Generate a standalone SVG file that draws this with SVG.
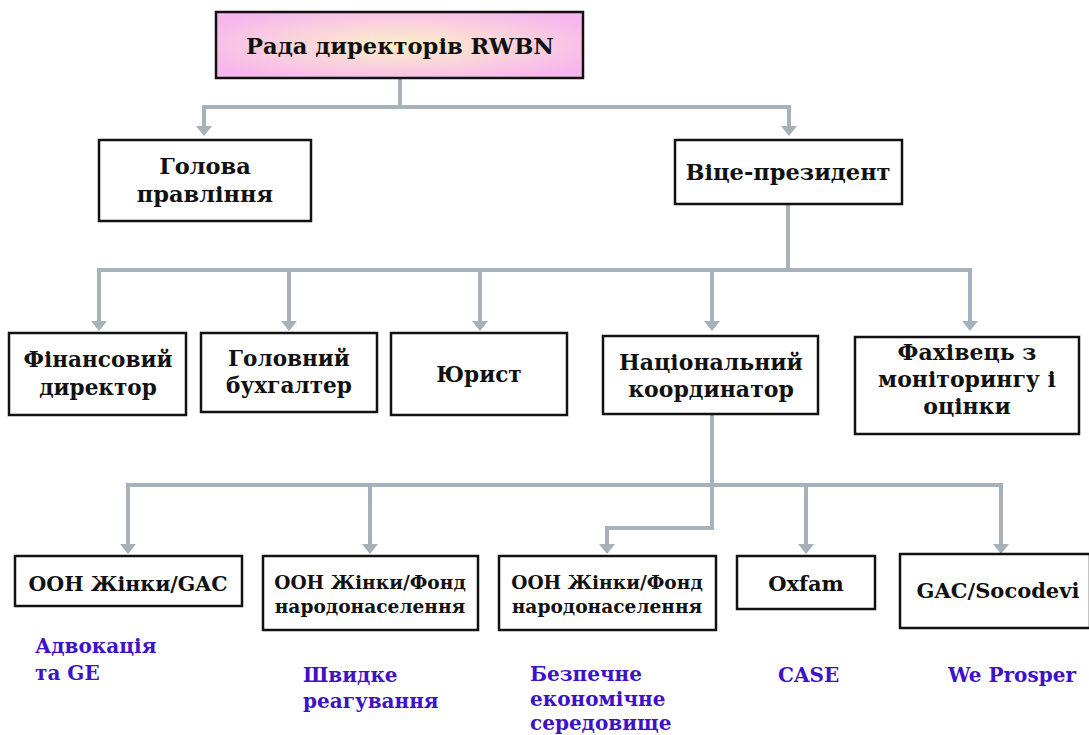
<svg xmlns="http://www.w3.org/2000/svg" width="1089" height="735" viewBox="0 0 1089 735">
<defs>
<radialGradient id="g" cx="0.5" cy="0.5" r="0.6">
<stop offset="0" stop-color="#fdf0c8"/>
<stop offset="1" stop-color="#f7b6ee"/>
</radialGradient>
</defs>
<style>
.box{fill:#fff;stroke:#111;stroke-width:2.5}
.t{font-family:"DejaVu Serif","Liberation Serif",serif;font-weight:bold;fill:#111;text-anchor:middle}
.l{font-family:"DejaVu Serif","Liberation Serif",serif;font-weight:bold;fill:#3d12c9;font-size:20px}
.c{fill:none;stroke:#a7b1b9;stroke-width:4}
.a{fill:#a7b1b9}
</style>
<g id="connectors">
<path class="c" d="M400,78 V107 M204,107 H789 M204,105 V128 M789,105 V128"/>
<path class="c" d="M788,204 V270 M97,270 H970 M99,268 V323 M289,268 V323 M480,268 V323 M712,268 V323 M970,268 V323"/>
<path class="c" d="M712,414 V485 M126,485 H1003 M128,483 V546 M370,483 V546 M712,485 V528 H607 V546 M806,483 V546 M1001,483 V546"/>
<path class="a" d="M196,126 H212 L204,136 Z M781,126 H797 L789,136 Z"/>
<path class="a" d="M91,321 H107 L99,331 Z M281,321 H297 L289,331 Z M472,321 H488 L480,331 Z M704,321 H720 L712,331 Z M962,321 H978 L970,331 Z"/>
<path class="a" d="M120,544 H136 L128,554 Z M362,544 H378 L370,554 Z M599,544 H615 L607,554 Z M798,544 H814 L806,554 Z M993,544 H1009 L1001,554 Z"/>
</g>
<g id="n-board"><rect x="216" y="12" width="367" height="66" fill="url(#g)" stroke="#111" stroke-width="2.5"/><text class="t" x="400" y="54" font-size="22.6">Рада директорів RWBN</text></g>
<g id="n-head"><rect class="box" x="99" y="140" width="212" height="81"/><text class="t" x="205" y="174" font-size="22.5">Голова</text><text class="t" x="205" y="202" font-size="22.5">правління</text></g>
<g id="n-vp"><rect class="box" x="675" y="140" width="227" height="64"/><text class="t" x="788" y="180" font-size="22.5">Віце-президент</text></g>
<g id="n-fin"><rect class="box" x="9" y="333" width="177" height="82"/><text class="t" x="98" y="367" font-size="21.6">Фінансовий</text><text class="t" x="98" y="395" font-size="21.6">директор</text></g>
<g id="n-acc"><rect class="box" x="201" y="333" width="176" height="79"/><text class="t" x="289" y="366" font-size="21.6">Головний</text><text class="t" x="289" y="393" font-size="21.6">бухгалтер</text></g>
<g id="n-law"><rect class="box" x="391" y="333" width="176" height="82"/><text class="t" x="479" y="382" font-size="21.6">Юрист</text></g>
<g id="n-nat"><rect class="box" x="603" y="336" width="215" height="78"/><text class="t" x="711" y="370" font-size="22">Національний</text><text class="t" x="711" y="397" font-size="22">координатор</text></g>
<g id="n-me"><rect class="box" x="855" y="337" width="224" height="97"/><text class="t" x="967" y="360" font-size="22">Фахівець з</text><text class="t" x="967" y="387" font-size="22">моніторингу і</text><text class="t" x="967" y="414" font-size="22">оцінки</text></g>
<g id="n-un1"><rect class="box" x="15" y="556" width="227" height="50"/><text class="t" x="128" y="591" font-size="20.5">ООН Жінки/GAC</text></g>
<g id="n-un2"><rect class="box" x="263" y="556" width="215" height="74"/><text class="t" x="370" y="589" font-size="18.6">ООН Жінки/Фонд</text><text class="t" x="370" y="613" font-size="18.6">народонаселення</text></g>
<g id="n-un3"><rect class="box" x="499" y="556" width="217" height="74"/><text class="t" x="607" y="589" font-size="18.6">ООН Жінки/Фонд</text><text class="t" x="607" y="613" font-size="18.6">народонаселення</text></g>
<g id="n-oxfam"><rect class="box" x="737" y="556" width="138" height="53"/><text class="t" x="806" y="591" font-size="21">Oxfam</text></g>
<g id="n-gac"><rect class="box" x="900" y="554" width="190" height="74"/><text class="t" x="998" y="598" font-size="21">GAC/Socodevi</text></g>
<g id="labels">
<text class="l" x="35" y="653">Адвокація</text><text class="l" x="35" y="680">та GE</text>
<text class="l" x="303" y="682">Швидке</text><text class="l" x="303" y="708">реагування</text>
<text class="l" x="530" y="681">Безпечне</text><text class="l" x="530" y="706">економічне</text><text class="l" x="530" y="730">середовище</text>
<text class="l" x="778" y="682">CASE</text>
<text class="l" x="948" y="682">We Prosper</text>
</g>
</svg>
